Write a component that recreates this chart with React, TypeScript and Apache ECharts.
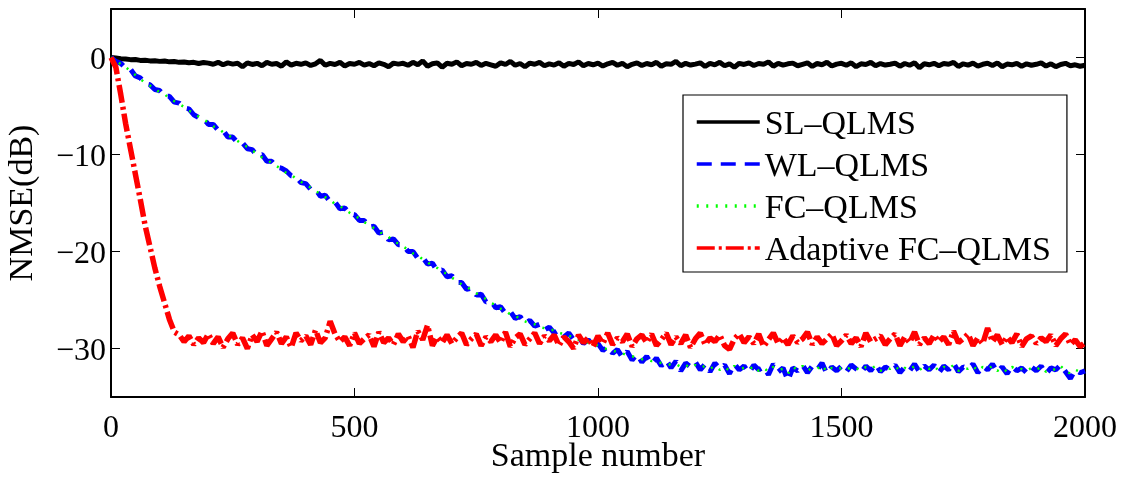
import React, { useEffect, useRef } from "react";
import * as echarts from "echarts";

// sample spacing of the stored points (sample number = index * STEP)
const STEP = 10;

const seriesNames = ["SL\u2013QLMS", "WL\u2013QLMS", "FC\u2013QLMS", "Adaptive FC\u2013QLMS"];
const xTicks = [0, 500, 1000, 1500, 2000];
const yTicks = [-30, -20, -10, 0];

const slQlms = [
  0, -0.05, -0.12, -0.15, -0.22, -0.2, -0.3, -0.28, -0.35, -0.33,
  -0.4, -0.36, -0.45, -0.42, -0.5, -0.46, -0.55, -0.5, -0.62, -0.52,
  -0.58, -0.7, -0.5, -0.75, -0.55, -0.68, -0.6, -0.95, -0.55, -0.72,
  -0.6, -0.85, -0.5, -0.7, -0.62, -0.9, -0.45, -0.78, -0.6, -0.7,
  -0.55, -0.82, -0.65, -0.3, -0.8, -0.6, -0.72, -0.5, -0.88, -0.62,
  -0.7, -0.5, -0.78, -0.62, -0.85, -0.55, -0.7, -0.95, -0.58, -0.68,
  -0.6, -0.8, -0.5, -0.75, -0.35, -0.9, -0.65, -0.55, -1.0, -0.6,
  -0.7, -0.45, -0.85, -0.62, -0.7, -0.5, -0.82, -0.6, -0.75, -0.9,
  -0.55, -0.72, -0.4, -0.8, -0.62, -0.95, -0.58, -0.7, -0.5, -0.85,
  -0.65, -0.78, -0.55, -0.9, -0.6, -0.72, -0.45, -0.85, -0.62, -0.75,
  -0.58, -0.88, -0.65, -0.5, -0.8, -0.6, -0.95, -0.7, -0.55, -0.82,
  -0.62, -0.75, -0.5, -0.9, -0.65, -0.7, -0.4, -0.85, -0.6, -0.78,
  -0.68, -0.55, -0.92, -0.6, -0.75, -0.5, -0.85, -0.65, -1.0, -0.6,
  -0.72, -0.55, -0.82, -0.62, -0.7, -0.45, -0.9, -0.6, -0.78, -0.65,
  -0.58, -0.85, -0.7, -0.55, -0.92, -0.62, -0.75, -0.5, -0.88, -0.68,
  -0.6, -0.8, -0.55, -0.95, -0.65, -0.72, -0.5, -0.85, -0.62, -0.78,
  -0.7, -0.58, -0.9, -0.62, -0.8, -0.55, -1.05, -0.65, -0.75, -0.6,
  -0.85, -0.62, -0.7, -0.5, -0.92, -0.65, -0.78, -0.58, -0.88, -0.7,
  -0.6, -0.82, -0.55, -0.95, -0.68, -0.75, -0.6, -0.9, -0.65, -0.8,
  -0.7, -0.55, -0.88, -0.65, -0.95, -0.72, -0.6, -0.85, -0.75, -0.9,
  -0.8,
];

const wlQlms = [
  0, -0.4, -0.6, -1.1, -1.2, -1.9, -2.1, -2.7, -2.8, -3.3,
  -3.4, -4.0, -4.0, -4.6, -4.7, -5.2, -5.3, -5.9, -6.2, -6.3,
  -6.9, -6.9, -7.5, -7.5, -8.2, -8.2, -8.8, -8.8, -9.4, -9.5,
  -10.1, -10.0, -10.7, -10.7, -11.3, -11.4, -11.7, -12.2, -12.3, -12.9,
  -13.0, -13.6, -13.6, -14.3, -14.2, -14.9, -14.9, -15.6, -15.5, -16.1,
  -16.2, -16.8, -16.8, -17.5, -17.4, -18.1, -18.0, -18.8, -18.7, -19.3,
  -19.3, -20.0, -20.0, -20.7, -20.6, -21.3, -21.2, -22.0, -21.9, -22.6,
  -22.5, -23.2, -23.2, -23.9, -23.8, -24.5, -24.4, -25.2, -25.1, -25.8,
  -25.7, -26.4, -26.2, -26.9, -26.7, -27.4, -27.1, -27.7, -27.5, -28.1,
  -27.8, -28.4, -28.1, -28.8, -28.4, -29.1, -28.8, -29.5, -29.1, -29.8,
  -29.5, -30.2, -29.8, -30.5, -30.1, -30.9, -30.3, -31.2, -30.6, -31.4,
  -30.8, -31.6, -31.0, -31.8, -31.2, -32.0, -31.3, -32.3, -31.5, -31.9,
  -31.4, -32.2, -31.6, -32.4, -31.5, -32.1, -31.7, -32.6, -31.6, -32.2,
  -31.8, -32.5, -31.7, -32.2, -31.9, -32.7, -31.6, -32.4, -32.0, -33.3,
  -32.0, -32.3, -31.7, -32.5, -31.8, -32.2, -31.5, -32.6, -31.9, -32.3,
  -31.8, -32.4, -31.7, -32.1, -32.5, -31.8, -32.3, -31.6, -32.4, -31.9,
  -32.2, -31.7, -32.5, -31.9, -32.3, -31.6, -32.4, -31.8, -32.2, -31.7,
  -32.5, -31.8, -32.2, -31.5, -32.4, -31.9, -32.1, -31.6, -32.5, -31.8,
  -32.2, -31.6, -32.4, -31.9, -32.6, -31.8, -32.3, -32.0, -32.5, -31.9,
  -32.3, -31.8, -32.6, -32.0, -32.2, -31.7, -32.4, -33.1, -32.2, -32.5,
  -32.3,
];

const fcQlms = [
  0, -0.3, -0.7, -1.0, -1.4, -1.8, -2.2, -2.6, -2.9, -3.2,
  -3.6, -3.8, -4.2, -4.5, -4.8, -5.1, -5.5, -5.7, -6.1, -6.4,
  -6.7, -7.1, -7.3, -7.7, -8.0, -8.3, -8.6, -9.0, -9.2, -9.6,
  -9.9, -10.3, -10.5, -10.9, -11.2, -11.5, -11.9, -12.1, -12.5, -12.8,
  -13.2, -13.4, -13.8, -14.0, -14.4, -14.7, -15.1, -15.3, -15.7, -16.0,
  -16.3, -16.6, -17.0, -17.2, -17.6, -17.9, -18.3, -18.5, -18.9, -19.2,
  -19.5, -19.8, -20.2, -20.4, -20.8, -21.1, -21.5, -21.7, -22.1, -22.3,
  -22.7, -23.0, -23.4, -23.6, -24.0, -24.3, -24.6, -24.9, -25.3, -25.5,
  -25.9, -26.1, -26.5, -26.6, -27.0, -27.2, -27.4, -27.5, -27.8, -27.9,
  -28.1, -28.1, -28.4, -28.5, -28.7, -28.8, -29.1, -29.2, -29.4, -29.5,
  -29.7, -29.9, -30.1, -30.2, -30.4, -30.5, -30.7, -30.8, -30.9, -31.1,
  -31.1, -31.3, -31.3, -31.5, -31.5, -31.7, -31.6, -31.9, -31.7, -32.0,
  -31.7, -32.0, -31.8, -32.1, -31.8, -32.2, -31.9, -32.3, -31.8, -32.1,
  -32.0, -32.2, -31.8, -32.3, -32.0, -32.4, -31.9, -32.2, -32.1, -32.6,
  -31.9, -32.2, -31.8, -32.3, -32.0, -32.1, -31.7, -32.4, -32.0, -32.2,
  -32.0, -32.2, -31.9, -32.0, -32.3, -31.9, -32.1, -31.8, -32.3, -32.0,
  -32.1, -31.8, -32.3, -32.0, -32.2, -31.8, -32.2, -31.9, -32.1, -31.8,
  -32.3, -31.9, -32.1, -31.7, -32.3, -32.0, -32.1, -31.8, -32.3, -31.9,
  -32.1, -31.8, -32.3, -32.0, -32.4, -31.9, -32.2, -32.1, -32.3, -32.0,
  -32.2, -31.9, -32.4, -32.1, -32.2, -31.8, -32.3, -32.6, -32.2, -32.4,
  -32.4,
];

const adaptiveFcQlms = [
  0, -1.0, -3.8, -6.8, -9.4, -12.0, -14.6, -17.3, -19.5, -21.7,
  -23.6, -25.3, -27.0, -28.3, -28.6, -29.3, -28.7, -29.6, -28.9, -29.4,
  -28.5, -29.5, -28.8, -29.9, -29.0, -28.4, -29.6, -28.9, -30.0, -28.6,
  -29.3, -28.2, -29.7, -29.0, -28.3, -29.5, -28.8, -29.9, -28.4, -29.2,
  -28.7, -29.6, -28.1, -29.4, -28.9, -27.2, -28.5, -29.3, -28.8, -29.7,
  -28.4, -29.5, -29.0, -28.6, -29.8, -28.3, -29.4, -28.9, -29.6, -28.5,
  -29.3, -28.7, -29.9, -28.2, -29.1, -27.6, -29.7, -28.8, -29.4, -28.6,
  -29.5, -28.9, -28.4, -29.6, -29.0, -28.5, -29.7, -28.8, -29.3, -28.6,
  -29.4, -28.3, -29.8, -28.9, -28.5, -29.6, -29.0, -28.4, -29.5, -28.7,
  -29.2, -28.6, -29.7, -28.8, -29.3, -30.0, -28.6, -29.4, -28.9, -29.8,
  -28.7, -29.5, -28.4, -29.6, -28.9, -29.3, -28.5, -29.8, -29.0, -28.6,
  -29.4, -28.5, -29.7, -29.1, -28.4, -29.6, -28.8, -29.5, -28.6, -29.9,
  -29.0, -28.4, -29.6, -28.9, -29.3, -28.6, -29.7, -30.1, -29.0, -28.5,
  -29.4, -28.8, -29.5, -28.5, -29.8, -29.1, -28.4, -29.5, -28.9, -29.6,
  -28.7, -29.4, -29.0, -28.3, -29.6, -28.8, -29.5, -29.0, -28.5, -29.7,
  -29.2, -28.6, -29.5, -28.9, -29.8, -28.4, -29.3, -29.0, -28.7, -29.6,
  -29.0, -28.5, -29.7, -28.8, -29.4, -28.3, -29.6, -28.9, -29.5, -28.6,
  -29.3, -28.8, -29.6, -28.2, -29.4, -29.0, -28.5, -29.7, -28.9, -29.5,
  -27.9, -29.3, -28.6, -29.6, -28.8, -29.4, -28.5, -29.8, -29.0, -28.7,
  -29.5, -28.9, -29.3, -28.6, -29.7, -29.0, -28.5, -29.6, -29.1, -29.8,
  -29.4,
];

const FONT = "Liberation Serif";
const minus = (v: number) => String(v).replace("-", "\u2212");
const plain = (v: number) => String(v);
const toPairs = (arr: number[]) => arr.map((v, i) => [i * STEP, v]);

export default function App() {
  const ref = useRef<HTMLDivElement>(null);

  useEffect(() => {
    if (!ref.current) return;
    const chart = echarts.init(ref.current, undefined, { renderer: "svg" });

    const axisLine = { show: true, onZero: false, lineStyle: { color: "#000", width: 2 } };
    const tick = { show: true, inside: true, length: 9, lineStyle: { color: "#000", width: 1 } };

    const option: any = {
      animation: false,
      grid: { left: 111, right: 41, top: 9, bottom: 81, show: false, outerBoundsMode: "none", containLabel: false },
      xAxis: [
        {
          type: "value",
          min: 0,
          max: 2000,
          interval: 500,
          position: "bottom",
          axisLine,
          axisTick: { ...tick, customValues: xTicks },
          splitLine: { show: false },
          axisLabel: { fontSize: 32, fontFamily: FONT, color: "#000", margin: 13, customValues: xTicks, formatter: plain },
          name: "Sample number",
          nameLocation: "middle",
          nameGap: 40,
          nameMoveOverlap: false,
          nameTextStyle: { fontSize: 34, fontFamily: FONT, color: "#000" },
        },
        {
          type: "value",
          min: 0,
          max: 2000,
          interval: 500,
          position: "top",
          axisLine,
          axisTick: { ...tick, customValues: xTicks },
          splitLine: { show: false },
          axisLabel: { show: false },
        },
      ],
      yAxis: [
        {
          type: "value",
          min: -35,
          max: 5,
          position: "left",
          axisLine,
          axisTick: { ...tick, customValues: yTicks },
          splitLine: { show: false },
          axisLabel: { fontSize: 32, fontFamily: FONT, color: "#000", margin: 5, customValues: yTicks, formatter: minus },
          name: "NMSE(dB)",
          nameLocation: "middle",
          nameGap: 74,
          nameMoveOverlap: false,
          nameTextStyle: { fontSize: 34, fontFamily: FONT, color: "#000" },
        },
        {
          type: "value",
          min: -35,
          max: 5,
          position: "right",
          axisLine,
          axisTick: { ...tick, customValues: yTicks },
          splitLine: { show: false },
          axisLabel: { show: false },
        },
      ],
      legend: {
        orient: "vertical",
        left: 683,
        top: 95,
        itemWidth: 63,
        itemHeight: 20,
        itemGap: 8,
        padding: [10, 16, 7, 12],
        borderColor: "#000",
        borderWidth: 1.2,
        backgroundColor: "#fff",
        itemStyle: { opacity: 0 },
        lineStyle: { width: 3.5 },
        textStyle: { fontSize: 34, fontFamily: FONT, color: "#000" },
        data: seriesNames,
      },
      series: [
        {
          name: seriesNames[0],
          type: "line",
          data: toPairs(slQlms),
          symbol: "none",
          lineStyle: { color: "#000", width: 5, type: "solid" },
          itemStyle: { color: "#000" },
        },
        {
          name: seriesNames[1],
          type: "line",
          data: toPairs(wlQlms),
          symbol: "none",
          lineStyle: { color: "#0000ff", width: 5, type: [15, 9] },
          itemStyle: { color: "#0000ff" },
        },
        {
          name: seriesNames[2],
          type: "line",
          data: toPairs(fcQlms),
          symbol: "none",
          lineStyle: { color: "#00ff00", width: 2.5, type: [2, 7.5] },
          itemStyle: { color: "#00ff00" },
        },
        {
          name: seriesNames[3],
          type: "line",
          data: toPairs(adaptiveFcQlms),
          symbol: "none",
          lineStyle: { color: "#ff0000", width: 5.5, type: [18, 4, 3, 4] },
          itemStyle: { color: "#ff0000" },
        },
      ],
    };

    chart.setOption(option);
    return () => chart.dispose();
  }, []);

  return <div ref={ref} style={{ position: "fixed", left: 0, top: 0, width: 1126, height: 478 }} />;
}
